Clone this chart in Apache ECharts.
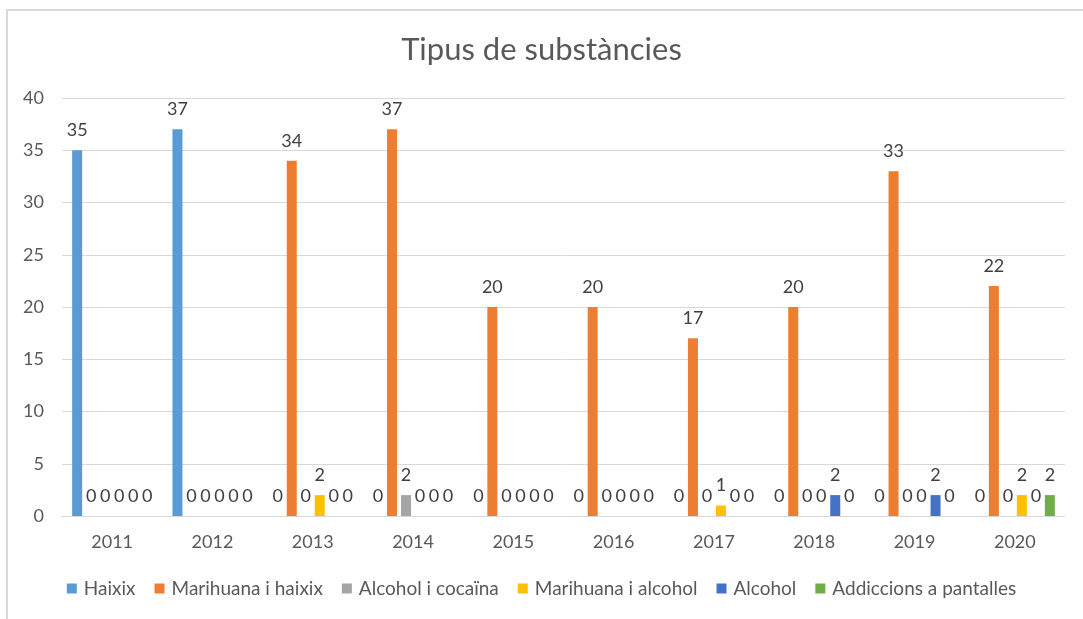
<!DOCTYPE html>
<html>
<head>
<meta charset="utf-8">
<script src="https://cdn.jsdelivr.net/npm/echarts@6/dist/echarts.min.js"></script>
<style>
  html, body { margin: 0; padding: 0; background: #fff; }
  #chart { width: 1083px; height: 619px; }
</style>
</head>
<body>
<div id="chart"></div>
<script>
// dades
var years = ['2011','2012','2013','2014','2015','2016','2017','2018','2019','2020'];
var haixix = [35, 37, 0, 0, 0, 0, 0, 0, 0, 0];
var marihuanaHaixix = [0, 0, 34, 37, 20, 20, 17, 20, 33, 22];
var alcoholCocaina = [0, 0, 0, 2, 0, 0, 0, 0, 0, 0];
var marihuanaAlcohol = [0, 0, 2, 0, 0, 0, 1, 0, 0, 2];
var alcohol = [0, 0, 0, 0, 0, 0, 0, 2, 2, 0];
var pantalles = [0, 0, 0, 0, 0, 0, 0, 0, 0, 2];

var seriesNames = ['Haixix', 'Marihuana i haixix', 'Alcohol i cocaïna', 'Marihuana i alcohol', 'Alcohol', 'Addiccions a pantalles'];
var seriesData = [haixix, marihuanaHaixix, alcoholCocaina, marihuanaAlcohol, alcohol, pantalles];
var colors = ['#5B9BD5', '#ED7D31', '#A5A5A5', '#FFC000', '#4472C4', '#70AD47'];

var font = 'Lato, "Open Sans", sans-serif';

var series = seriesNames.map(function (name, i) {
    return {
        name: name,
        type: 'bar',
        data: seriesData[i],
        barWidth: 10,
        barGap: '40%',
        itemStyle: { color: colors[i] },
        label: {
            show: true,
            position: 'top',
            distance: 11,
            color: '#404040',
            fontSize: 18,
            fontFamily: font
        }
    };
});

var option = {
    backgroundColor: '#fff',
    animation: false,
    graphic: [{
        type: 'rect',
        shape: { x: 7, y: 10, width: 1100, height: 640 },
        style: { fill: 'none', stroke: '#d9d9d9', lineWidth: 2 },
        silent: true
    }],
    title: {
        text: 'Tipus de substàncies',
        left: 'center',
        top: 29,
        textStyle: { color: '#595959', fontSize: 31, fontWeight: 'normal', fontFamily: font }
    },
    legend: {
        bottom: 16,
        left: 'center',
        icon: 'rect',
        itemWidth: 10,
        itemHeight: 10,
        itemGap: 19,
        textStyle: { color: '#595959', fontSize: 19, fontFamily: font, padding: [0, 0, 0, 2] }
    },
    grid: { left: 62, right: 18, top: 98, bottom: 103 },
    xAxis: {
        type: 'category',
        data: years,
        axisLine: { lineStyle: { color: '#d9d9d9' } },
        axisTick: { show: false },
        axisLabel: { color: '#595959', fontSize: 18, fontFamily: font, margin: 17 }
    },
    yAxis: {
        type: 'value',
        min: 0,
        max: 40,
        interval: 5,
        axisLine: { show: false },
        axisTick: { show: false },
        splitLine: { lineStyle: { color: '#d9d9d9' } },
        axisLabel: { color: '#595959', fontSize: 18, fontFamily: font, margin: 18 }
    },
    series: series
};

var chart = echarts.init(document.getElementById('chart'));
chart.setOption(option);
</script>
</body>
</html>
